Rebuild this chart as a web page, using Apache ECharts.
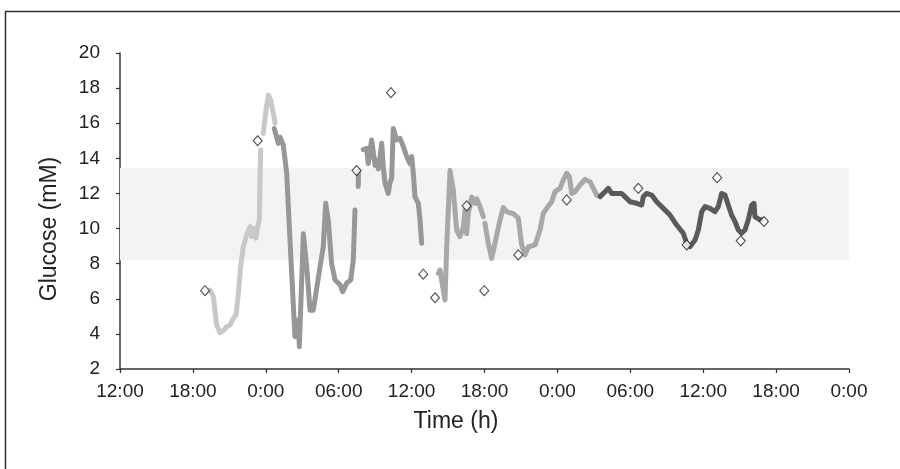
<!DOCTYPE html>
<html>
<head>
<meta charset="utf-8">
<script src="https://cdn.jsdelivr.net/npm/echarts@6/dist/echarts.min.js"></script>
<style>
  html, body { margin: 0; padding: 0; background: #fff; }
  #chart { width: 900px; height: 469px; }
</style>
</head>
<body>
<div id="chart"></div>
<script>
// hours since 12:00 on day 1, glucose in mM; '-' marks a gap in the trace
const timeLabels = ['12:00', '18:00', '0:00', '06:00', '12:00', '18:00', '0:00', '06:00', '12:00', '18:00', '0:00']
const targetRange = [8.2, 13.45]

const traceDay1 = [
  [7.41, 6.5], [7.68, 6.12], [7.96, 4.5], [8.23, 4.07], [8.5, 4.18], [8.78, 4.41], [9.05, 4.5],
  [9.33, 4.89], [9.55, 5.08], [9.74, 6.3], [9.93, 7.83], [10.15, 8.97], [10.43, 9.64], [10.7, 10.11],
  [10.84, 9.54], [10.97, 10.0], [11.19, 9.45], [11.3, 10.0], [11.47, 10.5], [11.52, 12.77], [11.58, 14.48],
  [11.65, '-'],
  [11.79, 15.43], [12.02, 16.76], [12.21, 17.6], [12.4, 17.33], [12.62, 16.57], [12.76, 16.0]
]

const traceNight1 = [
  [12.7, 15.7], [13.03, 14.85], [13.17, 15.2], [13.44, 14.76], [13.72, 13.15], [13.99, 9.35],
  [14.4, 3.84], [14.67, 4.8], [14.76, 3.27], [15.09, 9.7], [15.37, 7.8], [15.64, 5.35], [15.91, 5.35],
  [16.46, 7.8], [16.73, 8.97], [16.93, 11.44], [17.14, 10.5], [17.42, 8.0], [17.7, 7.07], [18.11, 6.8],
  [18.33, 6.4], [18.66, 6.9], [18.99, 7.07], [19.2, 8.2], [19.34, 11.06],
  [19.45, '-'],
  [19.61, 12.4], [19.63, 13.3],
  [19.8, '-'],
  [20.02, 14.5], [20.3, 14.57], [20.43, 13.7], [20.71, 15.05], [20.99, 13.6], [21.13, 13.9],
  [21.26, 13.4], [21.4, 14.1], [21.54, 14.86], [21.67, 13.5], [21.81, 12.6], [22.08, 12.0],
  [22.22, 12.6], [22.36, 12.86], [22.49, 15.7], [22.77, 15.05], [23.05, 15.14], [23.32, 14.67],
  [23.6, 14.1], [23.87, 13.7], [24.01, 14.1], [24.14, 13.15], [24.28, 11.8], [24.55, 11.44],
  [24.69, 10.5], [24.83, 9.16]
]

const traceDay2 = [
  [26.2, 7.45], [26.34, 7.64], [26.47, 7.07], [26.75, 5.93], [26.89, 8.97], [27.16, 13.3],
  [27.43, 12.2], [27.71, 9.92], [27.98, 9.54], [28.26, 10.1], [28.4, 11.06], [28.53, 9.7],
  [28.67, 10.87], [28.95, 11.8], [29.22, 11.44], [29.36, 11.7], [29.63, 11.25], [29.9, 10.68],
  [29.97, '-'],
  [30.04, 10.3], [30.31, 9.16], [30.59, 8.3], [30.86, 9.16], [31.28, 10.5], [31.55, 11.2],
  [31.83, 10.96], [32.1, 10.9], [32.37, 10.85], [32.78, 10.6], [33.05, 9.1], [33.33, 8.5],
  [33.61, 8.95], [34.16, 9.07], [34.57, 9.92], [34.84, 10.87], [35.12, 11.15], [35.53, 11.53],
  [35.8, 12.1], [36.21, 12.29], [36.49, 12.77], [36.77, 13.15], [36.98, 12.96], [37.18, 12.0],
  [37.45, 12.1], [37.86, 12.48], [38.27, 12.8], [38.68, 12.67], [38.96, 12.29], [39.23, 11.91],
  [39.51, 11.82]
]

const traceDay3 = [
  [39.51, 11.82], [39.92, 12.1], [40.19, 12.29], [40.47, 12.0], [40.74, 12.0], [41.29, 12.0],
  [41.7, 11.72], [41.98, 11.53], [42.53, 11.44], [42.94, 11.34], [43.07, 11.82], [43.35, 12.0],
  [43.76, 11.91], [44.17, 11.53], [44.72, 11.15], [45.27, 10.77], [45.82, 10.2], [46.36, 9.73],
  [46.64, 9.16], [46.91, 8.97], [47.33, 9.35], [47.6, 9.92], [47.88, 10.96], [48.15, 11.25],
  [48.56, 11.15], [48.97, 10.96], [49.24, 11.25], [49.52, 12.0], [49.79, 11.91], [50.06, 11.34],
  [50.34, 10.77], [50.62, 10.39], [50.89, 9.92], [51.16, 9.73], [51.44, 9.92], [51.71, 10.5],
  [51.99, 11.34], [52.18, 11.44], [52.26, 10.68], [52.45, 10.59], [52.67, 10.5], [52.81, 10.5]
]

// finger-prick reference readings
const meterReadings = [
  [7.0, 6.46], [11.33, 15.0], [19.47, 13.3], [22.3, 17.74], [24.96, 7.4], [25.93, 6.06],
  [28.53, 11.29], [29.98, 6.46], [32.78, 8.5], [36.77, 11.63], [42.66, 12.29], [46.64, 9.07],
  [49.15, 12.9], [51.09, 9.3], [53.0, 10.4]
]

const FONT = '"Liberation Sans", Arial, Helvetica, sans-serif'

const chart = echarts.init(document.getElementById('chart'))

const traceSeries = (data, color, z) => ({
  type: 'line',
  data,
  showSymbol: false,
  connectNulls: false,
  silent: true,
  z,
  lineStyle: { color, width: 5, cap: 'round', join: 'round' }
})

const option = {
  backgroundColor: '#fff',
  animation: false,
  grid: { left: 120, right: 51, top: 53, bottom: 100 },
  xAxis: {
    type: 'value',
    min: 0,
    max: 60,
    interval: 6,
    axisLine: { lineStyle: { color: '#333', width: 1.5 } },
    axisTick: { show: true, length: 4, lineStyle: { color: '#333', width: 1.2 } },
    axisLabel: {
      color: '#222',
      fontFamily: FONT,
      fontSize: 19,
      margin: 13,
      formatter: (v) => timeLabels[Math.round(v / 6)]
    },
    splitLine: { show: false }
  },
  yAxis: {
    type: 'value',
    min: 2,
    max: 20,
    interval: 2,
    axisLine: { show: true, lineStyle: { color: '#333', width: 1.5 } },
    axisTick: { show: true, length: 4, lineStyle: { color: '#333', width: 1.2 } },
    axisLabel: { color: '#222', fontFamily: FONT, fontSize: 19, margin: 20 },
    splitLine: { show: false }
  },
  graphic: [
    {
      type: 'polyline',
      shape: { points: [[5.5, 469], [5.5, 11.5], [900, 11.5]] },
      style: { stroke: '#333', lineWidth: 1.5, fill: null }
    },
    {
      type: 'text',
      x: 456, y: 422,
      style: { text: 'Time (h)', font: '23px ' + FONT, fill: '#222', textAlign: 'center', textVerticalAlign: 'middle' }
    },
    {
      type: 'text',
      x: 50, y: 229,
      rotation: Math.PI / 2,
      style: { text: 'Glucose (mM)', font: '23px ' + FONT, fill: '#222', textAlign: 'center', textVerticalAlign: 'middle' }
    }
  ],
  series: [
    {
      type: 'line',
      data: [],
      silent: true,
      markArea: {
        silent: true,
        itemStyle: { color: '#f3f3f3' },
        data: [[{ xAxis: 0, yAxis: targetRange[0] }, { xAxis: 60, yAxis: targetRange[1] }]]
      }
    },
    traceSeries(traceDay1, '#c8c8c8', 2),
    traceSeries(traceNight1, '#979797', 3),
    traceSeries(traceDay2, '#a8a8a8', 3),
    traceSeries(traceDay3, '#5a5a5a', 4),
    {
      type: 'scatter',
      data: meterReadings,
      symbol: 'diamond',
      symbolSize: [9, 10],
      z: 5,
      itemStyle: { color: '#fff', borderColor: '#222', borderWidth: 1.1 }
    }
  ]
}

chart.setOption(option)
</script>
</body>
</html>
